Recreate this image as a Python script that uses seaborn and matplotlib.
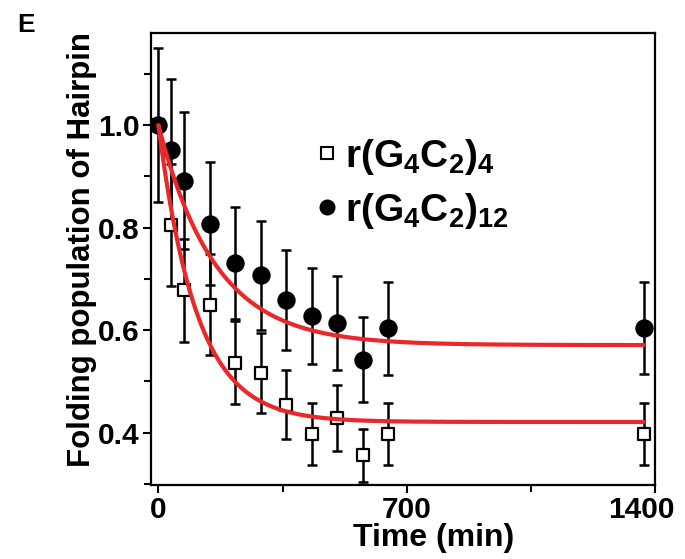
import numpy as np
import pandas as pd
import matplotlib
matplotlib.use("Agg")
import matplotlib.pyplot as plt
from matplotlib.ticker import FixedLocator
from matplotlib.lines import Line2D
import matplotlib.transforms as mtransforms
import seaborn as sns

# ---- data ----
times = [0, 36, 72, 144, 216, 288, 360, 432, 504, 576, 648, 1368]
g4c2_12 = [1.0, 0.951, 0.892, 0.808, 0.731, 0.707, 0.659, 0.628, 0.614, 0.542, 0.604, 0.604]
g4c2_12_err = [0.15, 0.14, 0.133, 0.12, 0.109, 0.106, 0.098, 0.093, 0.092, 0.083, 0.091, 0.09]
g4c2_4 = [1.0, 0.806, 0.678, 0.650, 0.537, 0.517, 0.455, 0.398, 0.429, 0.356, 0.398, 0.398]
g4c2_4_err = [0.0, 0.119, 0.10, 0.098, 0.081, 0.078, 0.067, 0.06, 0.065, 0.052, 0.06, 0.06]
# single-exponential fit parameters
fit_plateau = {"12": 0.571, "4": 0.421}
fit_tau = {"12": 160.0, "4": 108.0}
fit_end = 1368

x_ticks = [0, 700, 1400]
x_ticklabels = ["0", "700", "1400"]
y_ticks = [0.4, 0.6, 0.8, 1.0]
y_ticklabels = ["0.4", "0.6", "0.8", "1.0"]

label4 = r"$\mathbf{r(G_4C_2)_4}$"
label12 = r"$\mathbf{r(G_4C_2)_{12}}$"

sns.set_theme(style="ticks")
plt.rcParams["font.family"] = ["Liberation Sans", "DejaVu Sans"]
plt.rcParams["mathtext.fontset"] = "custom"
plt.rcParams["mathtext.rm"] = "Liberation Sans"
plt.rcParams["mathtext.bf"] = "Liberation Sans:bold"
for k in ["text.color", "axes.labelcolor", "xtick.color", "ytick.color",
          "xtick.labelcolor", "ytick.labelcolor", "axes.edgecolor"]:
    plt.rcParams[k] = "black"

fig = plt.figure(figsize=(6.85, 5.59), dpi=100)
ax = fig.add_axes([151 / 685, 1 - 485 / 559, 504 / 685, 452 / 559])

red = "#e8282b"
ax.errorbar(times, g4c2_4, yerr=g4c2_4_err, fmt="none", ecolor="black",
            elinewidth=1.8, capsize=3.8, capthick=1.8, zorder=2)
ax.errorbar(times, g4c2_12, yerr=g4c2_12_err, fmt="none", ecolor="black",
            elinewidth=1.8, capsize=3.8, capthick=1.8, zorder=2)

df = pd.DataFrame({"t": times, "y4": g4c2_4, "y12": g4c2_12})
sns.scatterplot(data=df, x="t", y="y4", marker="s", s=80, facecolor="white",
                edgecolor="black", linewidth=1.6, ax=ax, zorder=3)
sns.scatterplot(data=df, x="t", y="y12", marker="o", s=150, color="black",
                edgecolor="black", ax=ax, zorder=3)

tt = np.linspace(0, fit_end, 400)
for key in ["12", "4"]:
    yy = fit_plateau[key] + (1 - fit_plateau[key]) * np.exp(-tt / fit_tau[key])
    sns.lineplot(x=tt, y=yy, color=red, linewidth=3.0, ax=ax, zorder=4)

ax.set_xlim(-21, 1400)
ax.set_ylim(0.298, 1.18)
ax.xaxis.set_major_locator(FixedLocator(x_ticks))
ax.xaxis.set_minor_locator(FixedLocator([350, 1050]))
ax.yaxis.set_major_locator(FixedLocator(y_ticks))
ax.yaxis.set_minor_locator(FixedLocator([0.3, 0.5, 0.7, 0.9, 1.1]))
ax.set_xticklabels(x_ticklabels)
ax.set_yticklabels(y_ticklabels)
ax.tick_params(which="major", length=6, width=1.5, color="black", pad=2,
               labelsize=21.5, labelcolor="black")
ax.tick_params(which="minor", length=5, width=1.5, color="black")
for lab in ax.get_xticklabels() + ax.get_yticklabels():
    lab.set_fontweight("bold")
last = ax.get_xticklabels()[-1]
last.set_transform(last.get_transform() +
                   mtransforms.ScaledTranslation(-14 / 100, 0, fig.dpi_scale_trans))
for s in ax.spines.values():
    s.set_visible(True)
    s.set_linewidth(1.6)
    s.set_color("black")

ax.set_xlabel("Time (min)", fontsize=23, fontweight="bold")
ax.xaxis.set_label_coords(0.56, -0.083)
ax.set_ylabel("Folding population of Hairpin", fontsize=22.5, fontweight="bold")
ax.yaxis.set_label_coords(-0.108, 0.52)

h4 = Line2D([], [], marker="s", linestyle="none", markersize=9, markerfacecolor="white",
            markeredgecolor="black", markeredgewidth=1.5)
h12 = Line2D([], [], marker="o", linestyle="none", markersize=10.5, color="black")
leg = ax.legend([h4, h12], [label4, label12], loc="upper left",
                bbox_to_anchor=(0.33, 0.77), frameon=False, fontsize=28,
                handlelength=0.5, handletextpad=0.2, labelspacing=0.36,
                borderaxespad=0, borderpad=0)

fig.text(17 / 685, 1 - 25 / 559, "E", fontsize=19, fontweight="bold",
         va="center", ha="left")

fig.savefig("out.png", dpi=100)
